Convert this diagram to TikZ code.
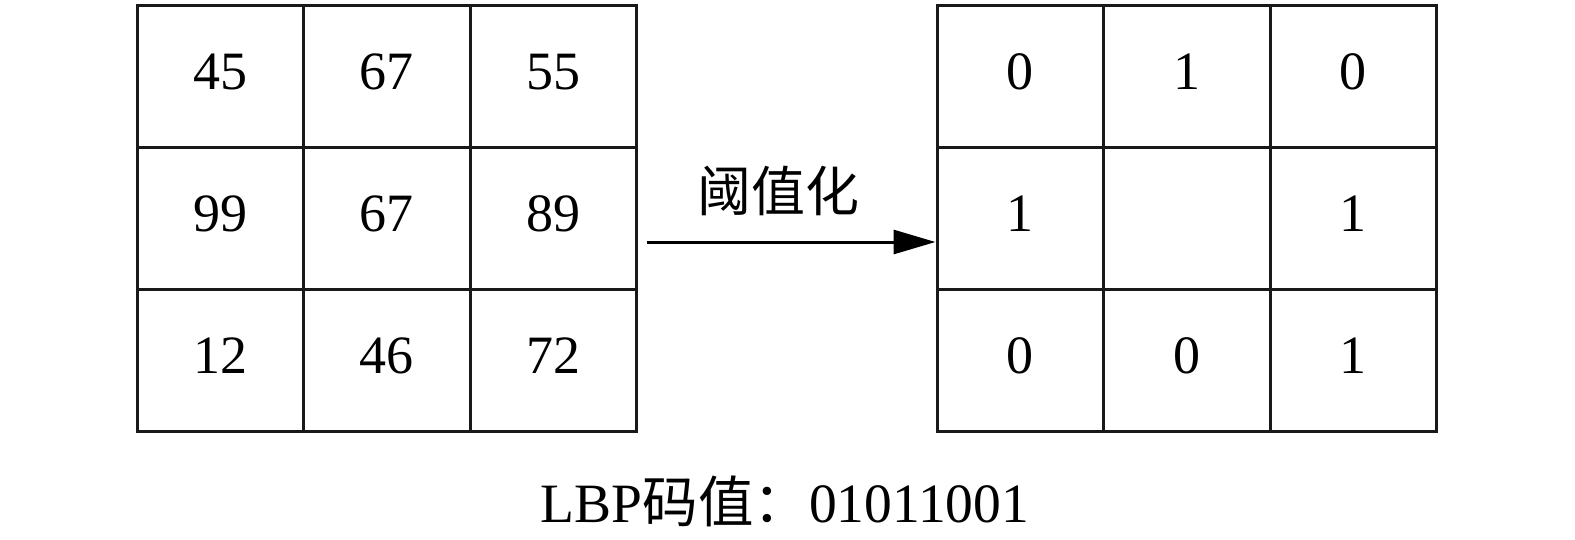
\documentclass[tikz,border=0pt]{standalone}
\usepackage{fontspec}
\setmainfont{Liberation Serif}
\newfontfamily\cjk{Noto Sans CJK SC}
\usetikzlibrary{arrows.meta,calc}
\begin{document}
\begin{tikzpicture}[x=1pt,y=-1pt,
  cell/.style={draw=black!90,line width=3pt,minimum width=166.5pt,minimum height=142pt,inner sep=0pt},
  conn/.style={line width=3pt,-{Triangle[length=42pt,width=24pt]}},
  num/.style={inner sep=0pt,yshift=4pt,font=\fontsize{54}{58}\selectfont},
  lbl/.style={inner sep=0pt,font=\fontsize{55.5}{60}\selectfont}]
\useasboundingbox (0,0) rectangle (1575,539);
% left grid
\foreach \r/\y in {1/76,2/218,3/360}{
  \foreach \c/\x in {1/220.25,2/386.75,3/553.25}{
    \node[cell] (L\r\c) at (\x,\y) {};
  }
}
\node[num] at (L11) {45};
\node[num] at (L12) {67};
\node[num] at (L13) {55};
\node[num] at (L21) {99};
\node[num] at (L22) {67};
\node[num] at (L23) {89};
\node[num] at (L31) {12};
\node[num] at (L32) {46};
\node[num] at (L33) {72};
% right grid
\foreach \r/\y in {1/76,2/218,3/360}{
  \foreach \c/\x in {1/1020.25,2/1186.75,3/1353.25}{
    \node[cell] (R\r\c) at (\x,\y) {};
  }
}
\node[num] at (R11) {0};
\node[num] at (R12) {1};
\node[num] at (R13) {0};
\node[num] at (R21) {1};
\node[num] at (R23) {1};
\node[num] at (R31) {0};
\node[num] at (R32) {0};
\node[num] at (R33) {1};
% arrow
\coordinate (as) at (647,242);
\coordinate (ae) at (R21.west |- as);
\draw[conn] (as) -- (ae);
\node[lbl,font=\cjk\fontsize{54}{60}\selectfont] (th) at (778,191) {阈值化};
% bottom
\node[lbl,anchor=base] (code) at (785,522) {LBP{\cjk 码值：}01011001};
\end{tikzpicture}
\end{document}
